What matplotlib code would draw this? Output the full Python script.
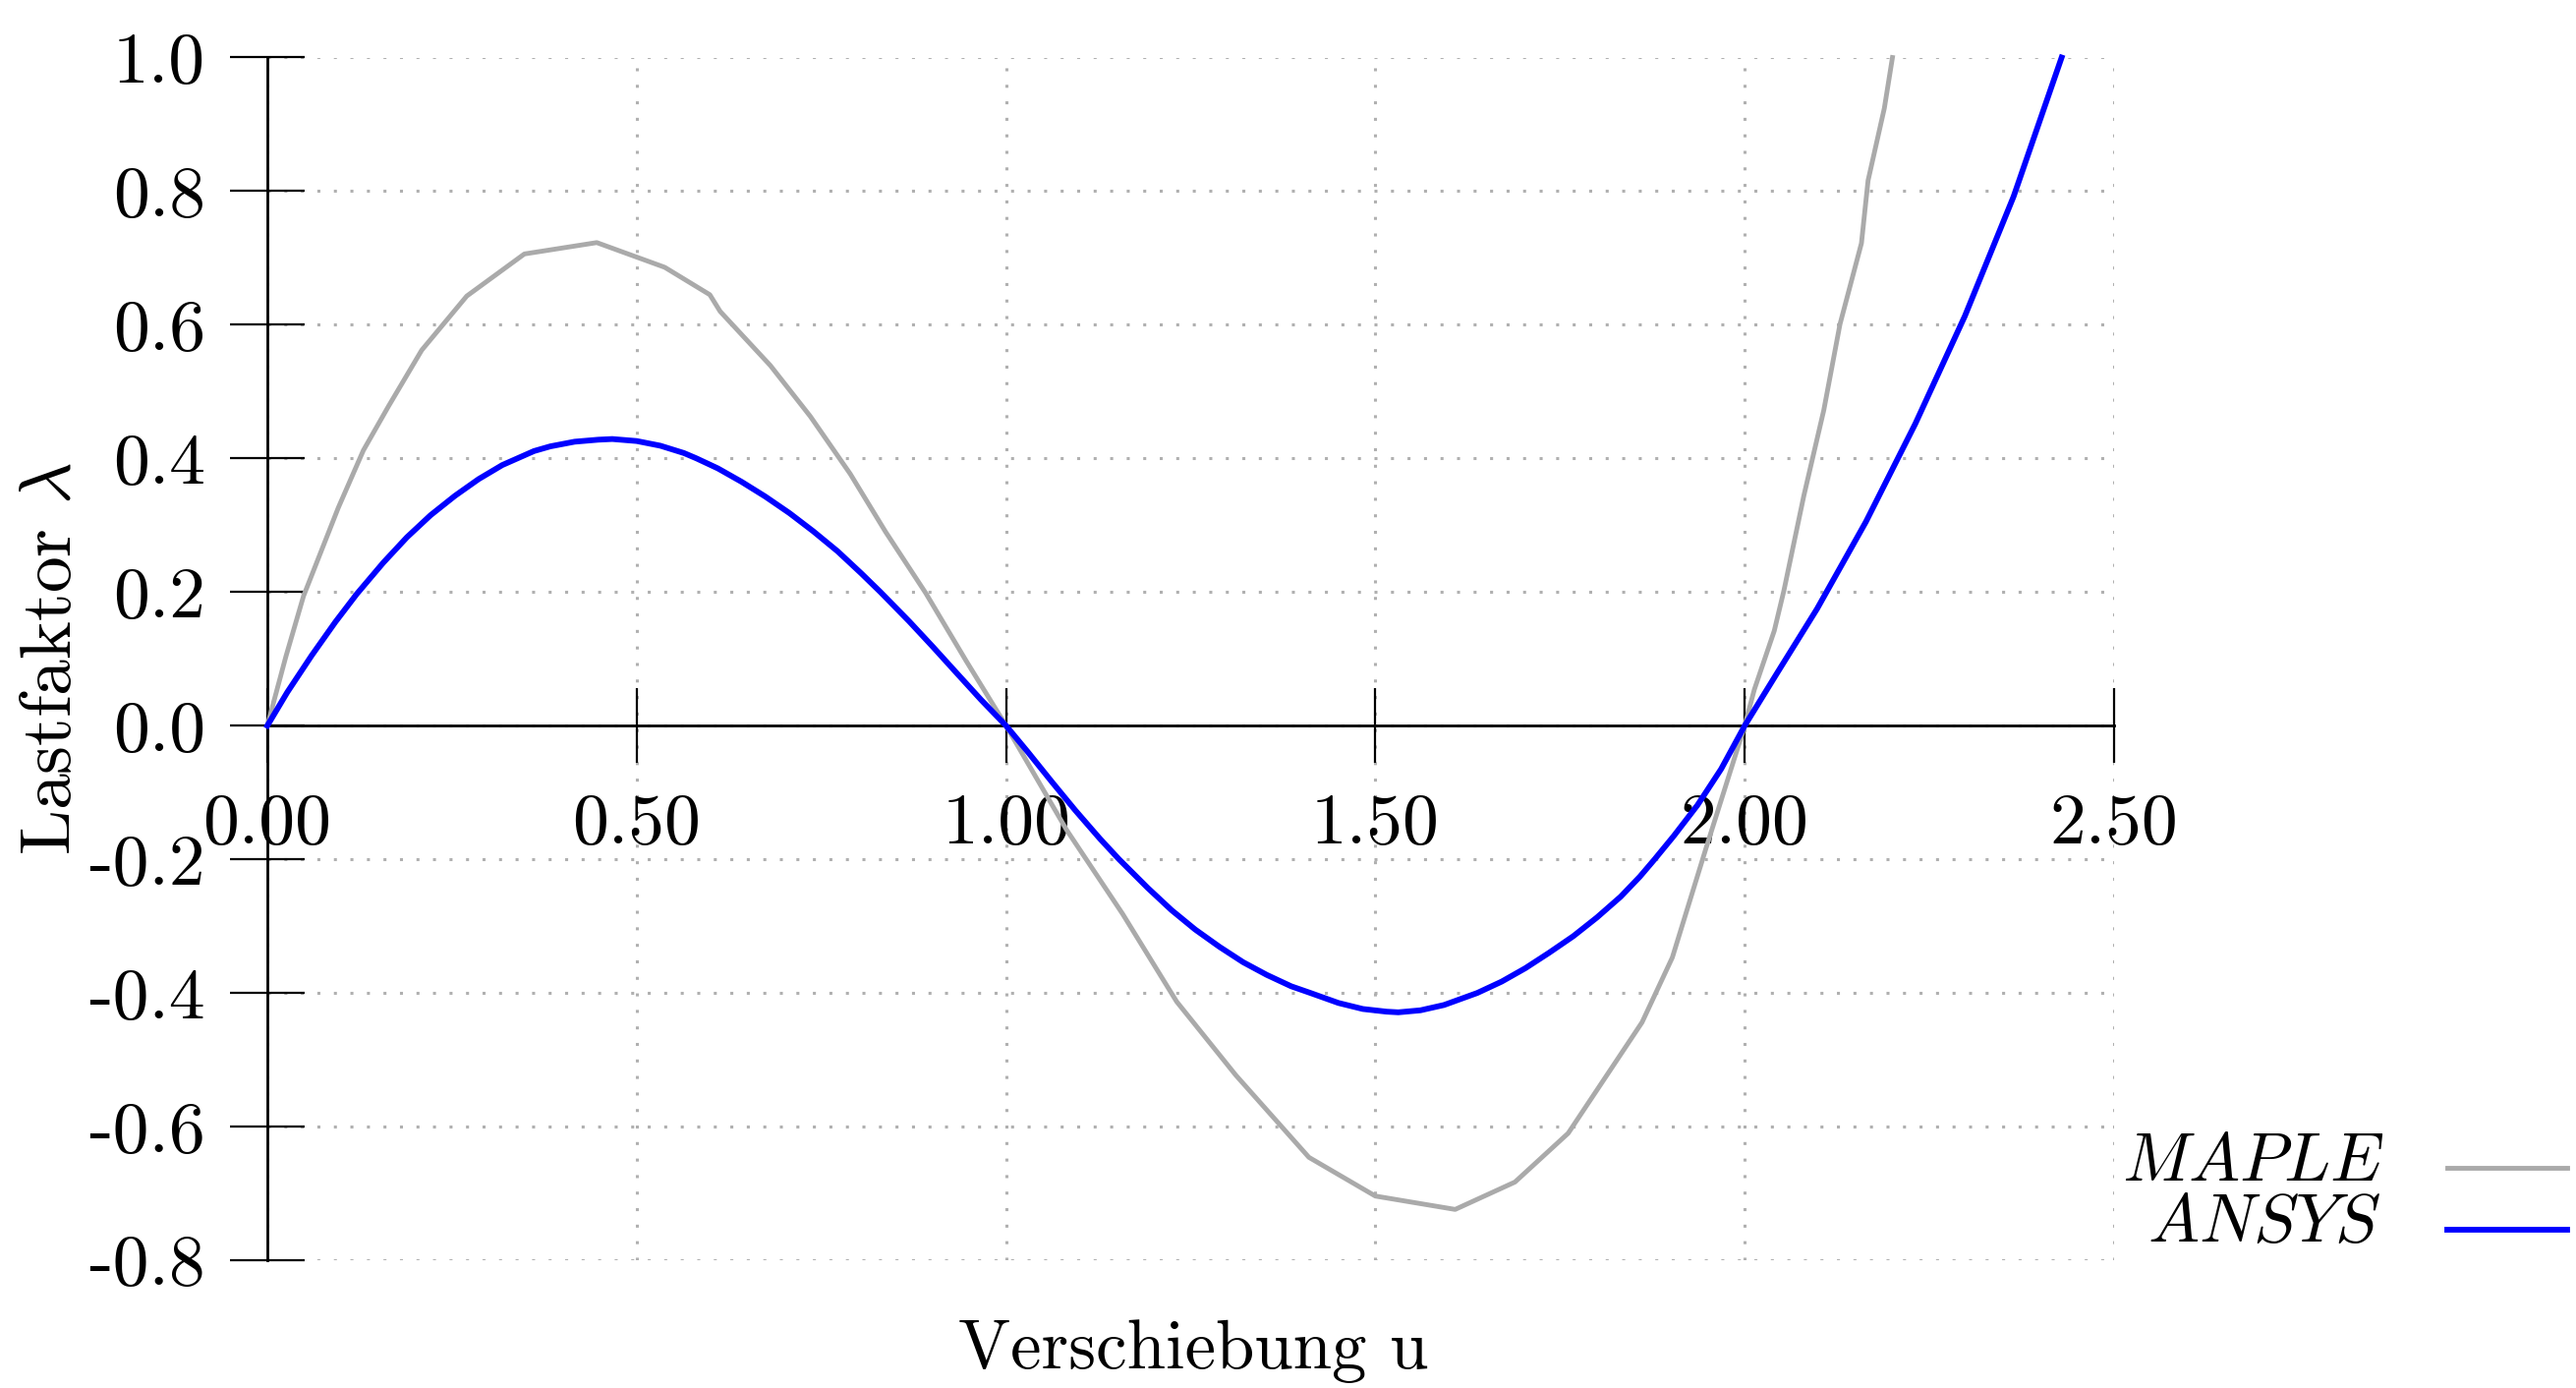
import matplotlib
matplotlib.use("Agg")
import matplotlib.pyplot as plt
from matplotlib.lines import Line2D

plt.rcParams['font.family'] = 'cmr10'
plt.rcParams['mathtext.fontset'] = 'cm'
plt.rcParams['axes.unicode_minus'] = False
plt.rcParams['axes.formatter.use_mathtext'] = True

# MAPLE curve (polyline)
maple_u = [0.0, 0.025, 0.049, 0.096, 0.130, 0.164, 0.209, 0.270, 0.348, 0.446,
           0.538, 0.599, 0.613, 0.681, 0.735, 0.789, 0.837, 0.891, 0.946, 1.0,
           1.082, 1.158, 1.231, 1.311, 1.410, 1.500, 1.608, 1.689, 1.761, 1.861,
           1.902, 1.948, 2.0, 2.013, 2.040, 2.053, 2.080, 2.107, 2.129, 2.158,
           2.167, 2.189, 2.200]
maple_lam = [0.0, 0.103, 0.194, 0.326, 0.412, 0.478, 0.562, 0.643, 0.706, 0.723,
             0.686, 0.645, 0.620, 0.539, 0.463, 0.377, 0.290, 0.199, 0.097, 0.0,
             -0.156, -0.282, -0.413, -0.523, -0.646, -0.704, -0.724, -0.683, -0.610, -0.444,
             -0.347, -0.182, 0.0, 0.054, 0.142, 0.202, 0.344, 0.472, 0.601, 0.722,
             0.816, 0.924, 1.0]

# ANSYS curve
ansys_u = [0.0, 0.027, 0.060, 0.092, 0.121, 0.157, 0.189, 0.221, 0.254, 0.286,
           0.318, 0.361, 0.383, 0.416, 0.448, 0.467, 0.500, 0.532, 0.564, 0.581,
           0.610, 0.642, 0.674, 0.707, 0.739, 0.772, 0.804, 0.830, 0.869, 0.901,
           0.933, 0.966, 1.0,
           1.030, 1.062, 1.094, 1.127, 1.153, 1.192, 1.224, 1.256, 1.289, 1.321,
           1.353, 1.386, 1.412, 1.450, 1.483, 1.515, 1.531, 1.561, 1.593, 1.638,
           1.671, 1.703, 1.735, 1.768, 1.800, 1.832, 1.858, 1.878, 1.904, 1.936,
           1.968, 2.0,
           2.044, 2.098, 2.164, 2.231, 2.298, 2.364, 2.429]
ansys_lam = [0.0, 0.050, 0.105, 0.155, 0.197, 0.244, 0.282, 0.315, 0.344, 0.369,
             0.390, 0.411, 0.418, 0.425, 0.428, 0.429, 0.426, 0.419, 0.408, 0.400,
             0.385, 0.365, 0.343, 0.318, 0.291, 0.261, 0.228, 0.200, 0.156, 0.118,
             0.079, 0.039, 0.0,
             -0.040, -0.084, -0.127, -0.169, -0.200, -0.243, -0.276, -0.305, -0.331, -0.354,
             -0.373, -0.390, -0.400, -0.415, -0.424, -0.428, -0.429, -0.426, -0.418, -0.400,
             -0.383, -0.363, -0.340, -0.315, -0.287, -0.256, -0.226, -0.200, -0.165, -0.119,
             -0.065, 0.0,
             0.079, 0.175, 0.305, 0.452, 0.613, 0.792, 1.0]

xticks = [0.0, 0.5, 1.0, 1.5, 2.0, 2.5]
xtick_labels = ['0.00', '0.50', '1.00', '1.50', '2.00', '2.50']
yticks = [-0.8, -0.6, -0.4, -0.2, 0.0, 0.2, 0.4, 0.6, 0.8, 1.0]
ytick_labels = ['-0.8', '-0.6', '-0.4', '-0.2', '0.0', '0.2', '0.4', '0.6', '0.8', '1.0']

W, H = 2621, 1412
fig = plt.figure(figsize=(W / 100, H / 100), dpi=100)
x0, x1, ytop, ybot = 272, 2151, 58.5, 1282
ax = fig.add_axes([x0 / W, 1 - ybot / H, (x1 - x0) / W, (ybot - ytop) / H])

fs = 53
gray = '#aaaaaa'
blue = '#0000ff'
lw_gray, lw_blue = 3.5, 4.2

ax.plot(maple_u, maple_lam, color=gray, lw=lw_gray, zorder=3, clip_on=False)
ax.plot(ansys_u, ansys_lam, color=blue, lw=lw_blue, zorder=4, clip_on=False)

ax.set_xlim(0, 2.5)
ax.set_ylim(-0.8, 1.0)
ax.set_xticks(xticks, labels=xtick_labels)
ax.set_yticks(yticks, labels=ytick_labels)

for s in ['top', 'right']:
    ax.spines[s].set_visible(False)
ax.spines['left'].set_position(('data', 0))
ax.spines['bottom'].set_position(('data', 0))
for s in ['left', 'bottom']:
    ax.spines[s].set_linewidth(2.0)
    ax.spines[s].set_zorder(2)

ax.tick_params(axis='both', direction='inout', length=55, width=1.6, labelsize=fs)
ax.tick_params(axis='y', pad=18)
ax.tick_params(axis='x', pad=22)

ax.grid(True, color='#b0b0b0', lw=2.2, linestyle=(0, (1.0, 4.5)), zorder=1)
ax.set_axisbelow(True)

fig.text(54 / W, 1 - 670 / H, r'Lastfaktor $\lambda$', rotation=90,
         ha='center', va='center', fontsize=fs)
fig.text(1214 / W, 1 - 1375 / H, 'Verschiebung u', ha='center', va='center', fontsize=51)

# key, right-aligned labels with samples to their right
fig.text(2425 / W, 1 - 1183 / H, r'$MAPLE$', ha='right', va='center', fontsize=50)
fig.text(2423 / W, 1 - 1245 / H, r'$ANSYS$', ha='right', va='center', fontsize=50)
fig.add_artist(Line2D([2490 / W, 2612 / W], [1 - 1188 / H, 1 - 1188 / H],
                      color=gray, lw=lw_gray, transform=fig.transFigure))
fig.add_artist(Line2D([2490 / W, 2612 / W], [1 - 1251 / H, 1 - 1251 / H],
                      color=blue, lw=lw_blue, transform=fig.transFigure))

fig.savefig('out.png', dpi=100)
